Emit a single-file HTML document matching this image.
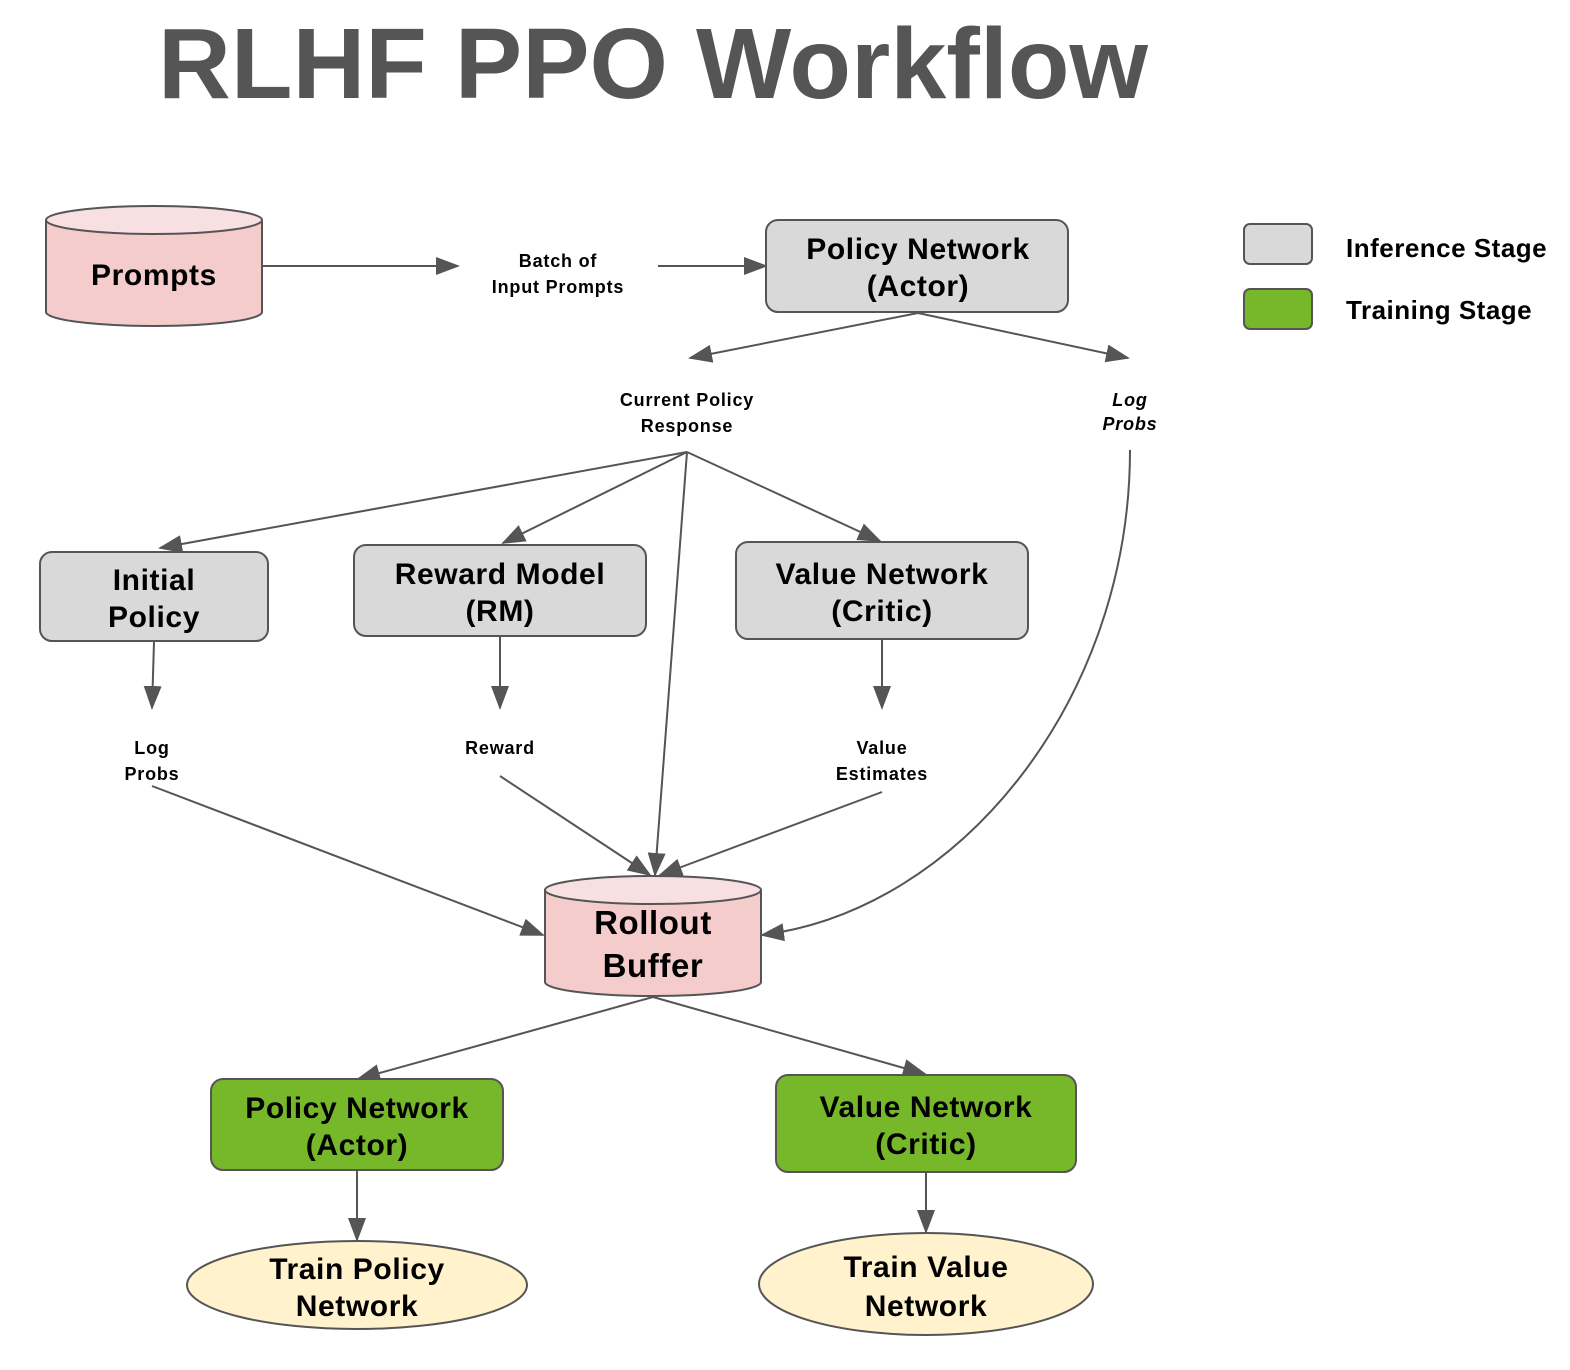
<!DOCTYPE html>
<html><head><meta charset="utf-8"><style>
html,body{margin:0;padding:0;background:#fff;}
svg{display:block;}
text{font-family:"Liberation Sans",Arial,sans-serif;font-weight:bold;fill:#000;text-anchor:middle;}
.b{font-size:30px;letter-spacing:0.6px;}
.s{font-size:18px;letter-spacing:0.8px;}
</style></head><body>
<svg width="1570" height="1370" viewBox="0 0 1570 1370" xmlns="http://www.w3.org/2000/svg">
<defs>
<marker id="a" markerUnits="userSpaceOnUse" markerWidth="24" markerHeight="18" refX="22" refY="9" orient="auto">
<path d="M0,0 L24,9 L0,18 z" fill="#555"/>
</marker>
</defs>
<text x="653" y="98" style="font-size:100px;fill:#555" textLength="990" lengthAdjust="spacingAndGlyphs">RLHF PPO Workflow</text>

<g stroke="#555" stroke-width="2" fill="none" marker-end="url(#a)">
<line x1="262" y1="266" x2="458" y2="266"/>
<line x1="658" y1="266" x2="766" y2="266"/>
<line x1="918" y1="313" x2="690" y2="358"/>
<line x1="918" y1="313" x2="1128" y2="358"/>
<line x1="687" y1="452" x2="160" y2="548"/>
<line x1="687" y1="452" x2="503" y2="543"/>
<line x1="687" y1="452" x2="655" y2="875"/>
<line x1="687" y1="452" x2="880" y2="541"/>
<line x1="154" y1="642" x2="152" y2="708"/>
<line x1="500" y1="637" x2="500" y2="708"/>
<line x1="882" y1="640" x2="882" y2="708"/>
<line x1="152" y1="786" x2="543" y2="935"/>
<line x1="500" y1="776" x2="650" y2="875"/>
<line x1="882" y1="792" x2="660" y2="875"/>
<path d="M1130 450 C 1130 700, 960 910, 762 935"/>
<line x1="653" y1="997" x2="358" y2="1079"/>
<line x1="653" y1="997" x2="925" y2="1074"/>
<line x1="357" y1="1171" x2="357" y2="1240"/>
<line x1="926" y1="1173" x2="926" y2="1232"/>
</g>

<path d="M46 220 V312 A108 14 0 0 0 262 312 V220" fill="#f4cccc" stroke="#555" stroke-width="2"/>
<ellipse cx="154" cy="220" rx="108" ry="14" fill="#f8e0e2" stroke="#555" stroke-width="2"/>
<text x="154" y="285" class="b">Prompts</text>

<text x="558" y="267" class="s">Batch of</text>
<text x="558" y="293" class="s">Input Prompts</text>

<rect x="766" y="220" width="302" height="92" rx="12" fill="#d9d9d9" stroke="#555" stroke-width="2"/>
<text x="918" y="259" class="b">Policy Network</text>
<text x="918" y="296" class="b">(Actor)</text>

<rect x="1244" y="224" width="68" height="40" rx="6" fill="#d9d9d9" stroke="#555" stroke-width="2"/>
<rect x="1244" y="289" width="68" height="40" rx="6" fill="#76b82a" stroke="#555" stroke-width="2"/>
<text x="1346" y="257" style="font-size:26px;letter-spacing:0.5px;text-anchor:start">Inference Stage</text>
<text x="1346" y="319" style="font-size:26px;letter-spacing:0.5px;text-anchor:start">Training Stage</text>

<text x="687" y="406" class="s">Current Policy</text>
<text x="687" y="432" class="s">Response</text>
<text x="1130" y="406" class="s" style="font-style:italic">Log</text>
<text x="1130" y="430" class="s" style="font-style:italic">Probs</text>

<rect x="40" y="552" width="228" height="89" rx="12" fill="#d9d9d9" stroke="#555" stroke-width="2"/>
<text x="154" y="590" class="b">Initial</text>
<text x="154" y="627" class="b">Policy</text>
<rect x="354" y="545" width="292" height="91" rx="12" fill="#d9d9d9" stroke="#555" stroke-width="2"/>
<text x="500" y="584" class="b">Reward Model</text>
<text x="500" y="621" class="b">(RM)</text>
<rect x="736" y="542" width="292" height="97" rx="12" fill="#d9d9d9" stroke="#555" stroke-width="2"/>
<text x="882" y="584" class="b">Value Network</text>
<text x="882" y="621" class="b">(Critic)</text>

<text x="152" y="754" class="s">Log</text>
<text x="152" y="780" class="s">Probs</text>
<text x="500" y="754" class="s">Reward</text>
<text x="882" y="754" class="s">Value</text>
<text x="882" y="780" class="s">Estimates</text>

<path d="M545 890 V982 A108 14 0 0 0 761 982 V890" fill="#f4cccc" stroke="#555" stroke-width="2"/>
<ellipse cx="653" cy="890" rx="108" ry="14" fill="#f8e0e2" stroke="#555" stroke-width="2"/>
<text x="653" y="934" style="font-size:33px;letter-spacing:0.6px">Rollout</text>
<text x="653" y="977" style="font-size:33px;letter-spacing:0.6px">Buffer</text>

<rect x="211" y="1079" width="292" height="91" rx="12" fill="#76b82a" stroke="#555" stroke-width="2"/>
<text x="357" y="1118" class="b">Policy Network</text>
<text x="357" y="1155" class="b">(Actor)</text>
<rect x="776" y="1075" width="300" height="97" rx="12" fill="#76b82a" stroke="#555" stroke-width="2"/>
<text x="926" y="1117" class="b">Value Network</text>
<text x="926" y="1154" class="b">(Critic)</text>

<ellipse cx="357" cy="1285" rx="170" ry="44" fill="#fff2cc" stroke="#555" stroke-width="2"/>
<text x="357" y="1279" class="b">Train Policy</text>
<text x="357" y="1316" class="b">Network</text>
<ellipse cx="926" cy="1284" rx="167" ry="51" fill="#fff2cc" stroke="#555" stroke-width="2"/>
<text x="926" y="1277" class="b">Train Value</text>
<text x="926" y="1316" class="b">Network</text>
</svg>
</body></html>
